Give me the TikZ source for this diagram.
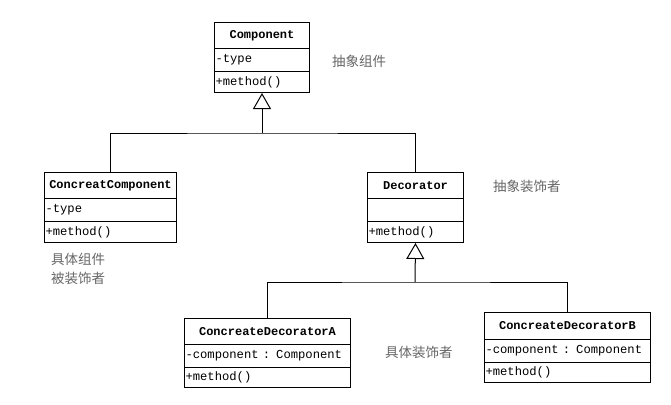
\documentclass[tikz,border=0pt]{standalone}
\usepackage{fontspec}
\setmonofont{Liberation Mono}
\newfontfamily\cjk{Noto Sans CJK SC}
\usetikzlibrary{arrows.meta}
\tikzset{
  comp/.style={draw, line width=1pt, anchor=north west, inner xsep=1pt, inner ysep=0pt, align=left, font=\ttfamily\fontsize{12.2}{14}\selectfont},
  title/.style={comp, align=center, font=\ttfamily\bfseries\fontsize{12}{14}\selectfont},
  note/.style={anchor=west, inner sep=0pt, text=black!60, font=\cjk\fontsize{13.5}{18.5}\selectfont, align=left},
  link/.style={line width=1pt},
  inherit/.style={link, -{Triangle[open, length=16pt, width=18pt, line width=1pt]}},
}
\begin{document}
\begin{tikzpicture}[x=1pt,y=-1pt]
\useasboundingbox (0,0) rectangle (671,404);
% Component
\node[title, minimum width=95pt, minimum height=26pt, text width=93pt] (comp-h) at (214,22) {Component};
\node[comp, minimum width=95pt, minimum height=23pt, text width=93pt] (comp-a) at (214,48) {-type};
\node[comp, minimum width=95pt, minimum height=21pt, text width=93pt] (comp-m) at (214,71) {+method()};
% ConcreatComponent
\node[title, minimum width=132pt, minimum height=26pt, text width=130pt] (cc-h) at (44,172) {ConcreatComponent};
\node[comp, minimum width=132pt, minimum height=23pt, text width=130pt] (cc-a) at (44,198) {-type};
\node[comp, minimum width=132pt, minimum height=21pt, text width=130pt] (cc-m) at (44,221) {+method()};
% Decorator
\node[title, minimum width=96pt, minimum height=26pt, text width=94pt] (dec-h) at (367,172) {Decorator};
\node[comp, minimum width=96pt, minimum height=23pt, text width=94pt] (dec-a) at (367,198) {};
\node[comp, minimum width=96pt, minimum height=21pt, text width=94pt] (dec-m) at (367,221) {+method()};
% ConcreateDecoratorA
\node[title, minimum width=166pt, minimum height=26pt, text width=164pt] (da-h) at (184,318) {ConcreateDecoratorA};
\node[comp, minimum width=166pt, minimum height=23pt, text width=164pt] (da-a) at (184,344) {-component : Component};
\node[comp, minimum width=166pt, minimum height=20pt, text width=164pt] (da-m) at (184,367) {+method()};
% ConcreateDecoratorB
\node[title, minimum width=166pt, minimum height=27pt, text width=164pt] (db-h) at (484,312) {ConcreateDecoratorB};
\node[comp, minimum width=166pt, minimum height=23pt, text width=164pt] (db-a) at (484,339) {-component : Component};
\node[comp, minimum width=166pt, minimum height=20pt, text width=164pt] (db-m) at (484,362) {+method()};
% notes
\node[note] (n1) at (332,61) {抽象组件};
\node[note] (n2) at (493,186) {抽象装饰者};
\node[note, anchor=north west] (n3) at (51,253) {具体组件\\被装饰者};
\node[note] (n4) at (385,352) {具体装饰者};
% connectors
\coordinate (j1) at (262,133);
\coordinate (j2) at (415,282);
\draw[link] (cc-h.north) |- (j1) -| (dec-h.north);
\draw[inherit] (j1) -- (comp-m.south);
\draw[link] (da-h.north) |- (j2) -| (db-h.north);
\draw[inherit] (j2) -- (dec-m.south);
\end{tikzpicture}
\end{document}
